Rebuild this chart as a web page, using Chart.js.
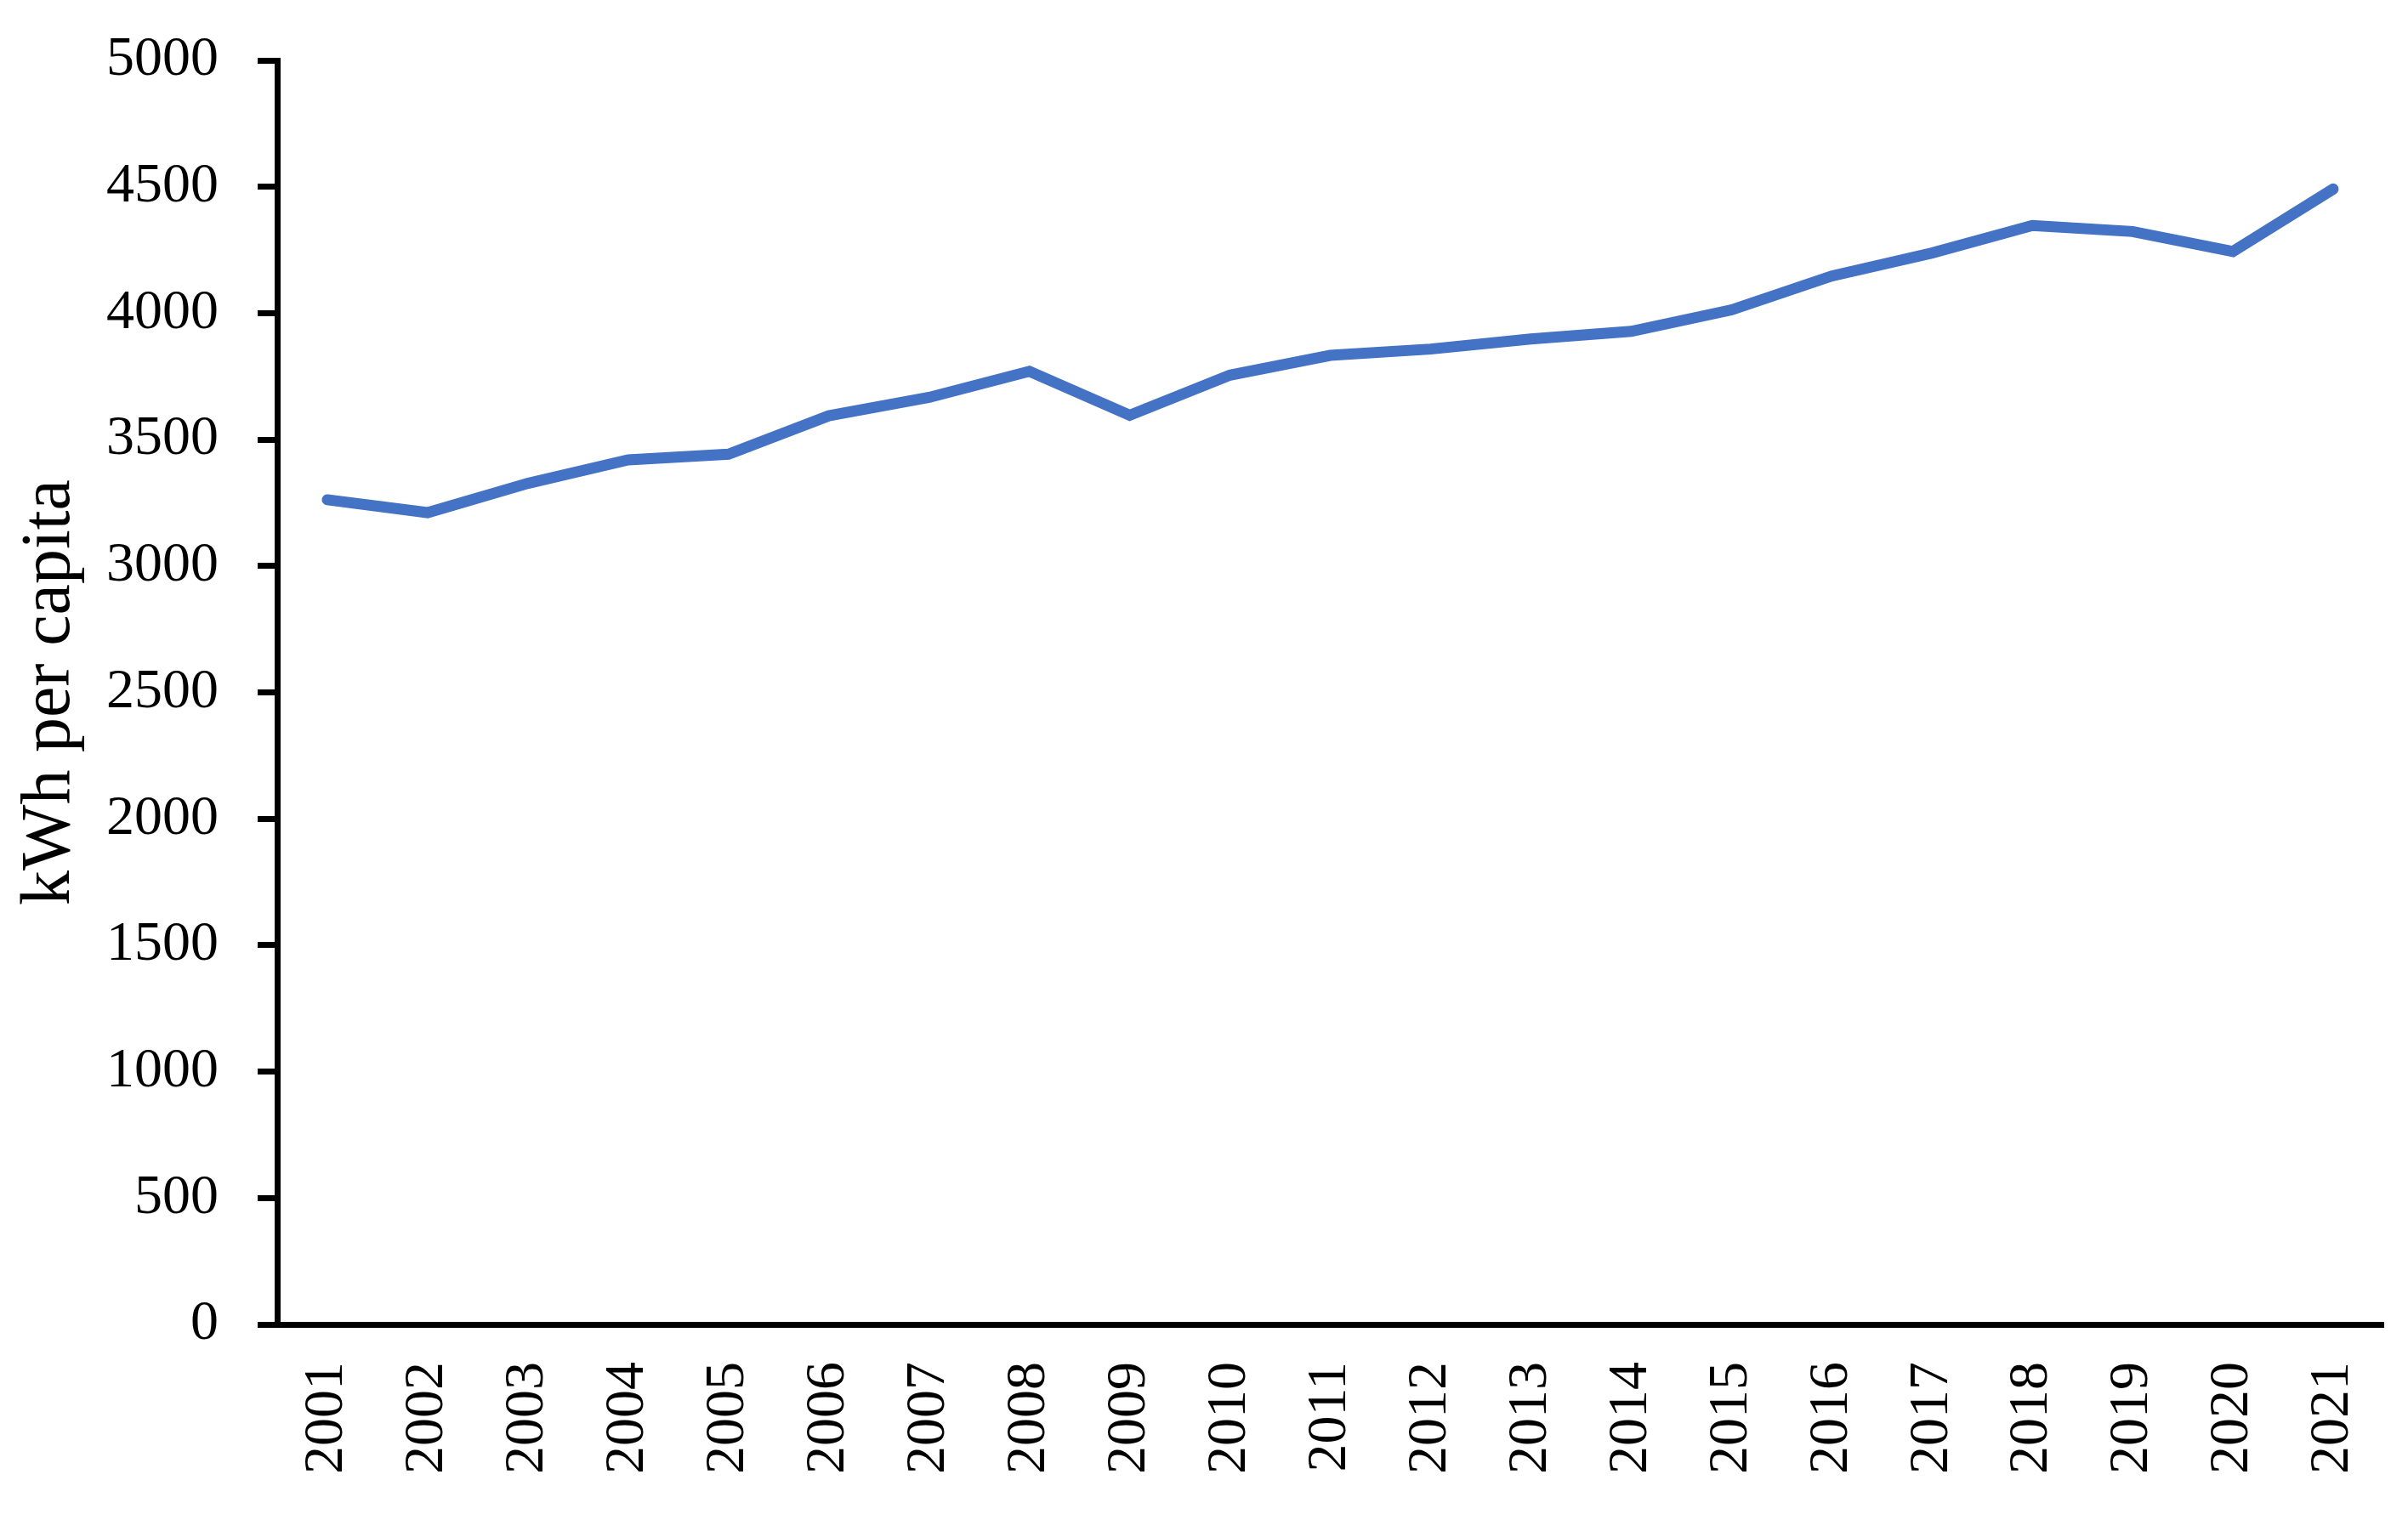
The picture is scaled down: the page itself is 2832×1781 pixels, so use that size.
<!DOCTYPE html>
<html>
<head>
<meta charset="utf-8">
<script src="https://cdn.jsdelivr.net/npm/chart.js@4/dist/chart.umd.min.js"></script>
<style>
  html, body { margin: 0; padding: 0; background: #ffffff; }
  #wrap { width: 2832px; height: 1781px; position: relative; }
</style>
</head>
<body>
<div id="wrap"><canvas id="c" width="2832" height="1781"></canvas></div>
<script>
const years = ['2001','2002','2003','2004','2005','2006','2007','2008','2009','2010','2011','2012','2013','2014','2015','2016','2017','2018','2019','2020','2021'];
const kwhPerCapita = [3262, 3211, 3327, 3420, 3442, 3594, 3667, 3770, 3596, 3755, 3833, 3858, 3898, 3928, 4013, 4147, 4238, 4347, 4323, 4244, 4491];
const yMin = 0;
const yMax = 5000;
const yStep = 500;
const yTitle = 'kWh per capita';

const FONT = "'Liberation Serif', 'Times New Roman', serif";

new Chart(document.getElementById('c'), {
  type: 'line',
  data: {
    labels: years,
    datasets: [{
      data: kwhPerCapita,
      borderColor: '#4472C4',
      backgroundColor: '#4472C4',
      borderWidth: 13,
      borderCapStyle: 'round',
      borderJoinStyle: 'miter',
      pointRadius: 0,
      tension: 0,
      fill: false
    }]
  },
  options: {
    responsive: false,
    animation: false,
    devicePixelRatio: 1,
    layout: { padding: { left: 0, right: 29, top: 71, bottom: 0 } },
    plugins: { legend: { display: false }, tooltip: { enabled: false } },
    scales: {
      x: {
        type: 'category',
        offset: true,
        grid: { display: true, drawOnChartArea: false, drawTicks: false, color: 'rgba(0,0,0,0)' },
        border: { display: true, color: '#000000', width: 7 },
        ticks: {
          color: '#000000',
          font: { family: FONT, size: 66 },
          minRotation: 90,
          maxRotation: 90,
          autoSkip: false,
          padding: 44
        },
        afterFit: (s) => {
          s.height = 223;
          s.paddingLeft = 0; s.paddingRight = 0; s.paddingTop = 0; s.paddingBottom = 0;
        }
      },
      y: {
        min: yMin,
        max: yMax,
        grid: { display: true, drawOnChartArea: false, drawTicks: true, tickLength: 23, color: '#000000', lineWidth: 7 },
        border: { display: true, color: '#000000', width: 7 },
        ticks: {
          stepSize: yStep,
          color: '#000000',
          font: { family: FONT, size: 66 },
          padding: 46,
          callback: (v) => String(v)
        },
        title: {
          display: true,
          text: yTitle,
          color: '#000000',
          font: { family: FONT, size: 82 },
          padding: { top: 10, bottom: 0 }
        },
        afterFit: (s) => {
          s.width = 326;
          s.paddingLeft = 0; s.paddingRight = 0; s.paddingTop = 0; s.paddingBottom = 0;
        }
      }
    }
  }
});
</script>
</body>
</html>
